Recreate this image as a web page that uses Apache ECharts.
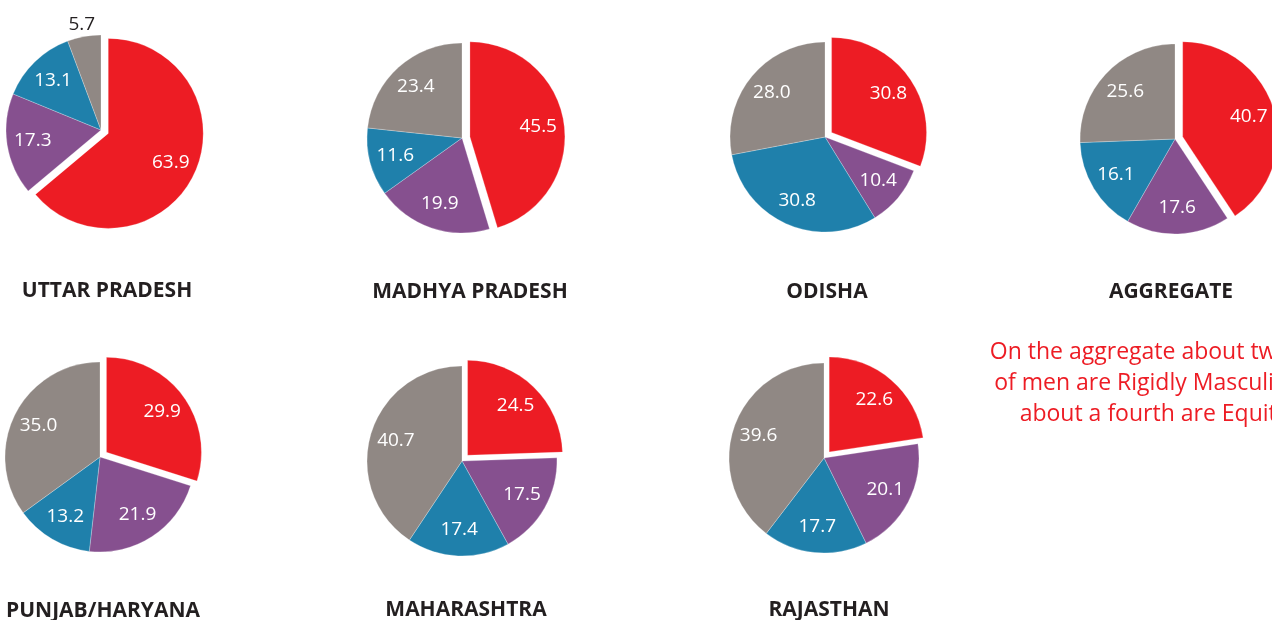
<!DOCTYPE html>
<html>
<head>
<meta charset="utf-8">
<script src="https://cdn.jsdelivr.net/npm/echarts@6/dist/echarts.min.js"></script>
<style>
html,body{margin:0;padding:0;background:#fff;}
#chart{width:1272px;height:620px;}
</style>
</head>
<body>
<div id="chart"></div>
<script>
// ---- data ----
const states = ['UTTAR PRADESH','MADHYA PRADESH','ODISHA','AGGREGATE','PUNJAB/HARYANA','MAHARASHTRA','RAJASTHAN'];
const segmentNames = ['Rigidly Masculine','Moderately Masculine','Moderately Equitable','Equitable'];
const rigid    = [63.9, 45.5, 30.8, 40.7, 29.9, 24.5, 22.6];
const moderate = [17.3, 19.9, 10.4, 17.6, 21.9, 17.5, 20.1];
const modEq    = [13.1, 11.6, 30.8, 16.1, 13.2, 17.4, 17.7];
const equit    = [5.7, 23.4, 28.0, 25.6, 35.0, 40.7, 39.6];
const note = ['On the aggregate about two-fifths', 'of men are Rigidly Masculine and', 'about a fourth are Equitable'];

// ---- layout / style ----
const colors = ['#ED1C24', '#86508F', '#1F80AB', '#908884'];
const centers = [[101,130],[462,138],[825,137],[1175,139],[100,457],[462,461],[824,458]];
const titleCenter = [[107,292],[470,293],[827,293],[1171,293],[103,612],[466,611],[829,611]];
const R = 95;
const FONT = 'Open Sans';
const TFS = 21;

const chart = echarts.init(document.getElementById('chart'), null, {renderer:'canvas'});
const series = [];
const titles = [];

states.forEach((st, i) => {
  const vals = [rigid[i], moderate[i], modEq[i], equit[i]];
  const mk = (extra) => vals.map((v, k) => Object.assign({
    name: segmentNames[k], value: v, selected: k === 0,
    itemStyle: {color: colors[k]}
  }, extra ? extra(v, k) : {}));
  // main pie
  series.push({
    type: 'pie', center: centers[i], radius: [0, R], startAngle: 90, clockwise: true,
    selectedMode: 'single', selectedOffset: 8, silent: true, animation: false,
    avoidLabelOverlap: false,
    label: {show: false}, labelLine: {show: false},
    itemStyle: {borderColor: 'rgba(255,255,255,0.5)', borderWidth: 0.5},
    emphasis: {disabled: true},
    data: mk()
  });
  // inside labels (transparent overlay so labels sit at ~0.7R)
  series.push({
    type: 'pie', center: centers[i], radius: [0, R * 1.39], startAngle: 90, clockwise: true,
    selectedMode: 'single', selectedOffset: 8, silent: true, animation: false,
    avoidLabelOverlap: false, z: 3,
    label: {show: true, position: 'inside', color: '#fff', fontFamily: FONT, fontSize: 19,
      formatter: p => p.value.toFixed(1)},
    labelLine: {show: false},
    emphasis: {disabled: true},
    data: mk((v, k) => ({itemStyle: {color: 'rgba(0,0,0,0)'}, label: {show: v >= 8}}))
  });
  // outside label for tiny slices
  series.push({
    type: 'pie', center: centers[i], radius: [0, R * 2.2], startAngle: 90, clockwise: true,
    silent: true, animation: false, avoidLabelOverlap: false, z: 3,
    label: {show: true, position: 'inside', color: '#231f20', fontFamily: FONT, fontSize: 19,
      formatter: p => p.value.toFixed(1)},
    labelLine: {show: false},
    emphasis: {disabled: true},
    data: mk((v, k) => ({selected: false, itemStyle: {color: 'rgba(0,0,0,0)'}, label: {show: v < 8}}))
  });
  titles.push({
    text: st, left: titleCenter[i][0], top: titleCenter[i][1] - TFS / 2 - 1, textAlign: 'center', padding: 0,
    textStyle: {fontFamily: FONT, fontWeight: 'bold', fontSize: TFS, color: '#231f20', lineHeight: TFS}
  });
});

const noteGraphics = note.map((line, j) => ({
  type: 'text', x: 1171, y: 352 + j * 31,
  style: {text: line, textAlign: 'center', textVerticalAlign: 'middle',
    fill: '#ED1C24', font: '23px "' + FONT + '"'}
}));

chart.setOption({
  animation: false,
  title: titles,
  series: series,
  graphic: noteGraphics
});
</script>
</body>
</html>
